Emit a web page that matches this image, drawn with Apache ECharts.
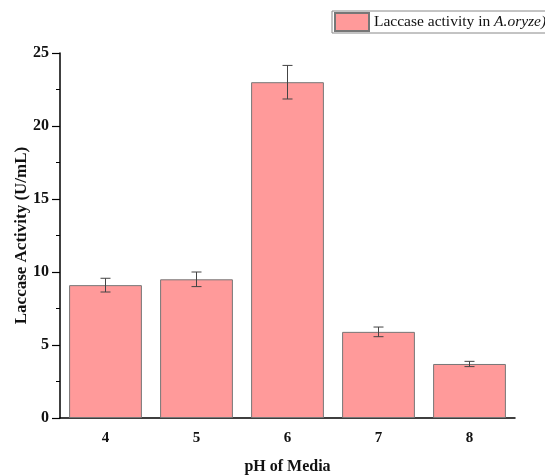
<!DOCTYPE html>
<html>
<head>
<meta charset="utf-8">
<script src="https://cdn.jsdelivr.net/npm/echarts@6/dist/echarts.min.js"></script>
<style>
  html, body { margin: 0; padding: 0; background: #fff; }
  #chart { width: 545px; height: 475px; }
</style>
</head>
<body>
<div id="chart"></div>
<script>
// pH of the growth media and measured laccase activity (U/mL)
const phLevels = ['4', '5', '6', '7', '8'];
const activity = [9.1, 9.5, 23.0, 5.9, 3.7];
const activityErr = [0.47, 0.5, 1.15, 0.33, 0.18];
const yTicks = [0, 5, 10, 15, 20, 25];

const serif = '"Liberation Serif", "DejaVu Serif", serif';
const chart = echarts.init(document.getElementById('chart'));

const errorData = activity.map((v, i) => [i, v - activityErr[i], v + activityErr[i]]);

chart.setOption({
  animation: false,
  backgroundColor: '#fff',
  grid: { left: 60, right: 30, top: 53, bottom: 57, containLabel: false, outerBoundsMode: 'none' },
  legend: {
    left: 332,
    top: 11,
    itemWidth: 34,
    itemHeight: 18,
    itemGap: 4,
    padding: [1, 20, 1, 2],
    borderColor: '#888',
    borderWidth: 1,
    data: [{ name: 'Laccase activity in A.oryze)', icon: 'rect' }],
    formatter: () => '{n|Laccase activity in }{i|A.oryze)}',
    textStyle: {
      rich: {
        n: { fontFamily: serif, fontSize: 15.5, color: '#111' },
        i: { fontFamily: serif, fontSize: 15.5, fontStyle: 'italic', color: '#111' }
      }
    }
  },
  xAxis: [
    {
      type: 'category',
      data: phLevels,
      name: 'pH of Media',
      nameLocation: 'middle',
      nameGap: 41,
      nameMoveOverlap: false,
      nameTextStyle: { fontFamily: serif, fontSize: 16, fontWeight: 'bold', color: '#111' },
      axisLine: { lineStyle: { color: '#000', width: 1.5 } },
      axisTick: { alignWithLabel: true, length: 7, lineStyle: { color: '#000', width: 1.2 } },
      axisLabel: { fontFamily: serif, fontSize: 15, fontWeight: 'bold', color: '#111', margin: 13 }
    },
    {
      type: 'category',
      data: phLevels,
      position: 'bottom',
      axisLine: { show: false },
      axisTick: { length: 3, lineStyle: { color: '#000', width: 1.2 } },
      axisLabel: { show: false }
    }
  ],
  yAxis: {
    type: 'value',
    min: 0,
    max: 25,
    interval: 5,
    name: 'Laccase Activity (U/mL)',
    nameLocation: 'middle',
    nameGap: 30,
    nameMoveOverlap: false,
    nameTextStyle: { fontFamily: serif, fontSize: 17, fontWeight: 'bold', color: '#111' },
    axisLine: { show: true, lineStyle: { color: '#000', width: 1.5 } },
    axisTick: { show: true, length: 8, lineStyle: { color: '#000', width: 1.2 } },
    minorTick: { show: true, splitNumber: 2, length: 4, lineStyle: { color: '#000', width: 1 } },
    splitLine: { show: false },
    axisLabel: {
      fontFamily: serif, fontSize: 16, fontWeight: 'bold', color: '#111', margin: 11,
      formatter: v => (yTicks.includes(v) ? String(v) : '')
    }
  },
  series: [
    {
      name: 'Laccase activity in A.oryze)',
      type: 'bar',
      data: activity,
      barWidth: '80%',
      itemStyle: { color: '#ff9a9a', borderColor: '#777', borderWidth: 1 }
    },
    {
      type: 'custom',
      name: 'error',
      data: errorData,
      z: 10,
      renderItem: (params, api) => {
        const x = api.value(0);
        const lo = api.coord([x, api.value(1)]);
        const hi = api.coord([x, api.value(2)]);
        const half = 5;
        const style = { stroke: '#444', lineWidth: 1 };
        return {
          type: 'group',
          children: [
            { type: 'line', shape: { x1: hi[0], y1: hi[1], x2: lo[0], y2: lo[1] }, style },
            { type: 'line', shape: { x1: hi[0] - half, y1: hi[1], x2: hi[0] + half, y2: hi[1] }, style },
            { type: 'line', shape: { x1: lo[0] - half, y1: lo[1], x2: lo[0] + half, y2: lo[1] }, style }
          ]
        };
      }
    }
  ]
});
</script>
</body>
</html>
